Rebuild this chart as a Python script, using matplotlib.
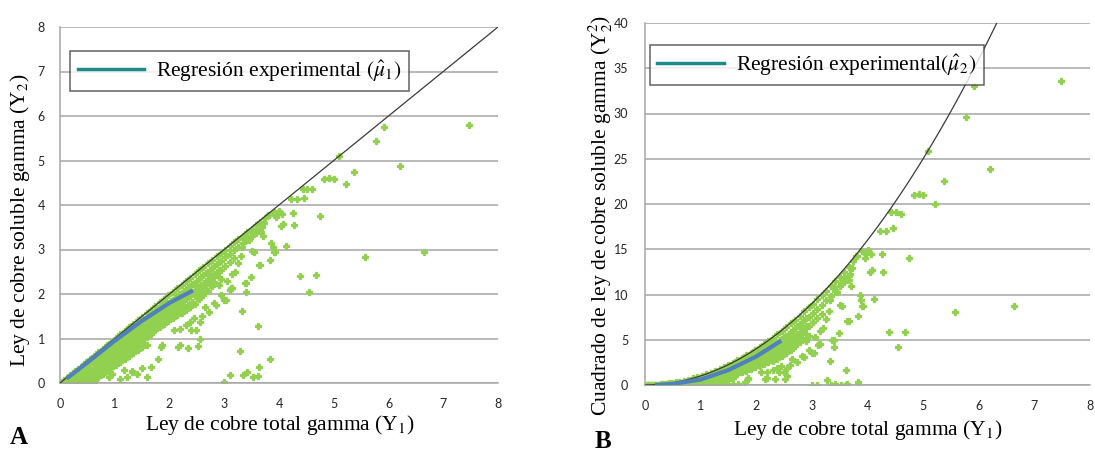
import numpy as np
import matplotlib
matplotlib.use('Agg')
import matplotlib.pyplot as plt
from matplotlib.lines import Line2D

plt.rcParams['mathtext.fontset'] = 'stix'

SERIF = 'Liberation Serif'
TICKFONT = 'Lato'

# dense core of samples: Y1 columns and the Y2 values read in each column
band_y1 = [0.03, 0.08, 0.13, 0.18, 0.23, 0.28, 0.33, 0.38, 0.43, 0.48,
           0.55, 0.62, 0.70, 0.78, 0.86, 0.94, 1.02, 1.10, 1.18, 1.26,
           1.34, 1.42, 1.50, 1.58, 1.66, 1.74, 1.82, 1.90, 1.98, 2.06,
           2.14, 2.22, 2.30, 2.38, 2.46, 2.54, 2.62, 2.70, 2.78, 2.86,
           2.94, 3.02, 3.10, 3.18, 3.26, 3.34, 3.42, 3.50, 3.58, 3.66,
           3.74, 3.82, 3.90]
band_y2 = [
    [0.02, 0.0], [0.07, 0.03, 0.0], [0.12, 0.06, 0.01], [0.17, 0.10, 0.03],
    [0.22, 0.14, 0.05, 0.0], [0.27, 0.18, 0.08, 0.01], [0.32, 0.22, 0.11, 0.02],
    [0.37, 0.26, 0.14, 0.04], [0.42, 0.31, 0.18, 0.06, 0.0], [0.47, 0.35, 0.22, 0.09],
    [0.54, 0.42, 0.28, 0.14, 0.03], [0.61, 0.48, 0.34, 0.20, 0.07],
    [0.69, 0.56, 0.41, 0.27, 0.13], [0.77, 0.63, 0.48, 0.33, 0.20],
    [0.85, 0.70, 0.55, 0.40, 0.26], [0.93, 0.78, 0.62, 0.47, 0.33],
    [1.01, 0.86, 0.70, 0.54, 0.40], [1.09, 0.94, 0.78, 0.62, 0.47],
    [1.17, 1.02, 0.85, 0.69, 0.53], [1.25, 1.10, 0.93, 0.76, 0.60],
    [1.33, 1.17, 1.00, 0.83, 0.67], [1.41, 1.25, 1.08, 0.90, 0.74],
    [1.49, 1.33, 1.15, 0.97, 0.80], [1.57, 1.40, 1.22, 1.04, 0.86],
    [1.65, 1.48, 1.30, 1.11], [1.73, 1.56, 1.37, 1.18], [1.81, 1.63, 1.44, 1.25],
    [1.89, 1.71, 1.52, 1.32], [1.97, 1.79, 1.60, 1.40], [2.05, 1.86, 1.67, 1.46],
    [2.13, 1.94, 1.74, 1.52], [2.21, 2.02, 1.81, 1.58], [2.29, 2.10, 1.88, 1.64],
    [2.37, 2.17, 1.95, 1.70], [2.45, 2.25, 2.03, 1.78], [2.53, 2.33, 2.10, 1.88],
    [2.61, 2.42, 2.20, 1.97], [2.69, 2.50, 2.30, 2.07], [2.77, 2.58, 2.38, 2.18],
    [2.85, 2.67, 2.47], [2.93, 2.75, 2.55, 2.33], [3.00, 2.83, 2.63],
    [3.08, 2.90, 2.72], [3.16, 2.98, 2.80], [3.23, 3.06], [3.31, 3.14],
    [3.39, 3.22], [3.46, 3.30], [3.54, 3.38], [3.61, 3.47], [3.70], [3.77], [3.85],
]

# in-between samples of the core (offset columns)
fill_y1 = [0.52, 0.66, 0.74, 0.82, 0.90, 0.98, 1.06, 1.14, 1.22, 1.30,
           1.38, 1.46, 1.54, 1.62, 1.70, 1.78, 1.86, 1.94, 2.02, 2.10,
           2.18, 2.26, 2.34, 2.42, 2.50, 2.58, 2.66, 2.74, 2.82, 2.90]
fill_y2 = [
    [0.36, 0.20], [0.52, 0.38, 0.24], [0.62, 0.48, 0.34, 0.18], [0.70, 0.55, 0.41, 0.28],
    [0.78, 0.63, 0.48, 0.34], [0.86, 0.71, 0.55, 0.41], [0.94, 0.79, 0.62, 0.48],
    [1.02, 0.86, 0.70, 0.55], [1.09, 0.93, 0.77, 0.62], [1.17, 1.01, 0.84, 0.69],
    [1.24, 1.08, 0.92, 0.76], [1.32, 1.16, 0.99, 0.83], [1.40, 1.23, 1.06, 0.90],
    [1.47, 1.31, 1.13], [1.55, 1.38, 1.20], [1.62, 1.46, 1.28], [1.70, 1.53, 1.35],
    [1.77, 1.60, 1.42], [1.85, 1.68, 1.49], [1.92, 1.75, 1.56], [2.00, 1.83, 1.63],
    [2.07, 1.90, 1.70], [2.15, 1.98, 1.76], [2.22, 2.05, 1.83], [2.30, 2.13, 1.92],
    [2.38, 2.21, 2.00], [2.47, 2.30, 2.10], [2.55, 2.38, 2.20], [2.63, 2.46, 2.28],
    [2.72, 2.55, 2.38],
]

# scattered samples away from the core
spread_y1 = [0.64, 0.89, 0.95, 1.09, 1.16, 1.23, 1.31, 1.32, 1.41, 1.49,
             1.58, 1.67, 1.79, 1.85, 1.86, 2.09, 2.15, 2.19, 2.19, 2.30,
             2.34, 2.37, 2.40, 2.45, 2.49, 2.52, 2.55, 2.55, 2.60, 2.65,
             2.73, 2.82, 2.85, 2.90, 2.94, 3.00, 3.00, 3.04, 3.05, 3.10,
             3.11, 3.13, 3.14, 3.15, 3.20, 3.25, 3.28, 3.30, 3.32, 3.33,
             3.35, 3.37, 3.39, 3.40, 3.40, 3.41, 3.46, 3.48, 3.50, 3.52,
             3.52, 3.55, 3.57, 3.61, 3.61, 3.63, 3.64, 3.66, 3.67, 3.69,
             3.70, 3.72, 3.79, 3.83, 3.83, 3.86, 3.89, 3.90, 3.92, 3.95,
             3.98, 4.00, 4.04, 4.06, 4.08, 4.12, 4.22, 4.26, 4.27, 4.33,
             4.38, 4.43, 4.45, 4.51, 4.54, 4.61, 4.68, 4.74, 4.83, 4.92,
             5.00, 5.09, 5.22, 5.37, 5.57, 5.77, 5.92, 6.21, 6.64, 7.47]
spread_y2 = [0.07, 0.13, 0.20, 0.08, 0.30, 0.13, 0.26, 0.25, 0.21, 0.33,
             0.13, 0.35, 0.55, 0.82, 0.86, 1.19, 0.80, 0.86, 1.21, 1.30,
             0.78, 1.36, 1.19, 1.45, 1.19, 0.84, 1.00, 1.36, 1.50, 1.70,
             1.60, 1.79, 1.75, 2.20, 1.98, 0.02, 1.87, 1.87, 2.30, 0.18,
             2.09, 2.13, 2.14, 2.45, 2.50, 2.70, 0.73, 2.85, 1.62, 3.06,
             0.18, 2.24, 2.04, 2.24, 3.29, 0.25, 3.21, 2.39, 2.97, 0.14,
             3.36, 2.95, 3.42, 0.16, 1.28, 0.37, 2.65, 2.65, 3.40, 3.50,
             3.30, 3.60, 3.78, 0.54, 2.76, 3.15, 3.06, 2.95, 2.95, 3.74,
             3.80, 3.86, 3.53, 3.80, 3.57, 3.08, 4.13, 3.81, 3.54, 4.13,
             2.41, 4.37, 4.16, 4.37, 2.04, 4.35, 2.43, 3.75, 4.58, 4.60,
             4.58, 5.09, 4.47, 4.75, 2.84, 5.44, 5.75, 4.88, 2.95, 5.80]

# experimental regression curves
reg_y1_a = [0.12, 0.50, 1.00, 1.50, 2.00, 2.43]
reg_mu1 = [0.10, 0.46, 0.95, 1.40, 1.80, 2.08]
reg_y1_b = [0.18, 0.50, 1.00, 1.50, 2.00, 2.45]
reg_mu2 = [0.00, 0.12, 0.60, 1.65, 3.15, 4.90]

y1 = np.concatenate([np.repeat(band_y1, [len(c) for c in band_y2]),
                     np.repeat(fill_y1, [len(c) for c in fill_y2]),
                     spread_y1])
y2 = np.concatenate([np.concatenate(band_y2), np.concatenate(fill_y2), spread_y2])

W, H = 1095, 453
fig = plt.figure(figsize=(W / 100, H / 100), dpi=100)


def px_axes(left, top, right, bottom):
    return fig.add_axes([left / W, 1 - bottom / H, (right - left) / W, (bottom - top) / H])


def style(ax, ymax, ystep, ypad):
    ax.set_xlim(0, 8)
    ax.set_ylim(0, ymax)
    ax.set_xticks(range(0, 9))
    ax.set_yticks(np.arange(0, ymax + 1, ystep))
    ax.grid(axis='y', color='#A6A6A6', lw=1.1)
    ax.set_axisbelow(True)
    for s in ['top', 'right']:
        ax.spines[s].set_visible(False)
    for s in ['left', 'bottom']:
        ax.spines[s].set_color('#A6A6A6')
        ax.spines[s].set_linewidth(1.1)
    ax.tick_params(length=0, labelsize=9, labelcolor='#262626')
    ax.tick_params(axis='x', pad=11)
    ax.tick_params(axis='y', pad=ypad)
    for lab in ax.get_xticklabels() + ax.get_yticklabels():
        lab.set_fontfamily(TICKFONT)


def legend(ax, text, x0, y0):
    h = Line2D([], [], color='#1F8A8A', lw=2.5)
    leg = ax.legend([h], [text], loc='upper left', bbox_to_anchor=(x0, y0),
                    borderaxespad=0, frameon=True, fancybox=False,
                    handlelength=3.1, handletextpad=0.55, borderpad=0.35,
                    prop={'family': SERIF, 'size': 15.5})
    leg.get_frame().set_edgecolor('#3A3A3A')
    leg.get_frame().set_linewidth(1.1)
    leg.set_zorder(10)


ref_x = np.linspace(0, 8, 400)
mk = dict(ls='none', marker='P', ms=4.4, mew=0.9, mec='#92D050', color='#92D050', zorder=2)

# panel A: soluble vs total
ax = px_axes(60, 27, 498, 383)
style(ax, 8, 1, 11)
ax.plot(y1, y2, **mk)
ax.plot(ref_x, ref_x, color='#3A3A3A', lw=0.9, zorder=3)
ax.plot(reg_y1_a, reg_mu1, color='#4F81BD', lw=3, solid_capstyle='butt', zorder=4)
legend(ax, 'Regresión experimental $(\\hat{\\mu}_1)$', 0.023, 0.933)

# panel B: squared soluble vs total
bx = px_axes(645, 23, 1090, 385)
style(bx, 40, 5, 12)
bx.plot(y1, y2 ** 2, **mk)
bx.plot(ref_x, ref_x ** 2, color='#3A3A3A', lw=0.9, zorder=3)
bx.plot(reg_y1_b, reg_mu2, color='#4F81BD', lw=3, solid_capstyle='butt', zorder=4)
legend(bx, 'Regresión experimental$(\\hat{\\mu}_2)$', 0.011, 0.939)

lab = dict(family=SERIF, size=15.5, ha='center', va='center')
fig.text(20 / W, 1 - 220 / H, 'Ley de cobre soluble gamma (Y$_2$)', rotation=90, **lab)
fig.text(280 / W, 1 - 425 / H, 'Ley de cobre total gamma (Y$_1$)', **lab)
fig.text(601 / W, 1 - 215 / H, 'Cuadrado de ley de cobre soluble gamma (Y$_2^2$)', rotation=90, **lab)
fig.text(868 / W, 1 - 430 / H, 'Ley de cobre total gamma (Y$_1$)', **lab)
fig.text(19 / W, 1 - 437 / H, 'A', family=SERIF, size=18, weight='bold', ha='center', va='center')
fig.text(603 / W, 1 - 441 / H, 'B', family=SERIF, size=18, weight='bold', ha='center', va='center')

fig.savefig('out.png', dpi=100)
